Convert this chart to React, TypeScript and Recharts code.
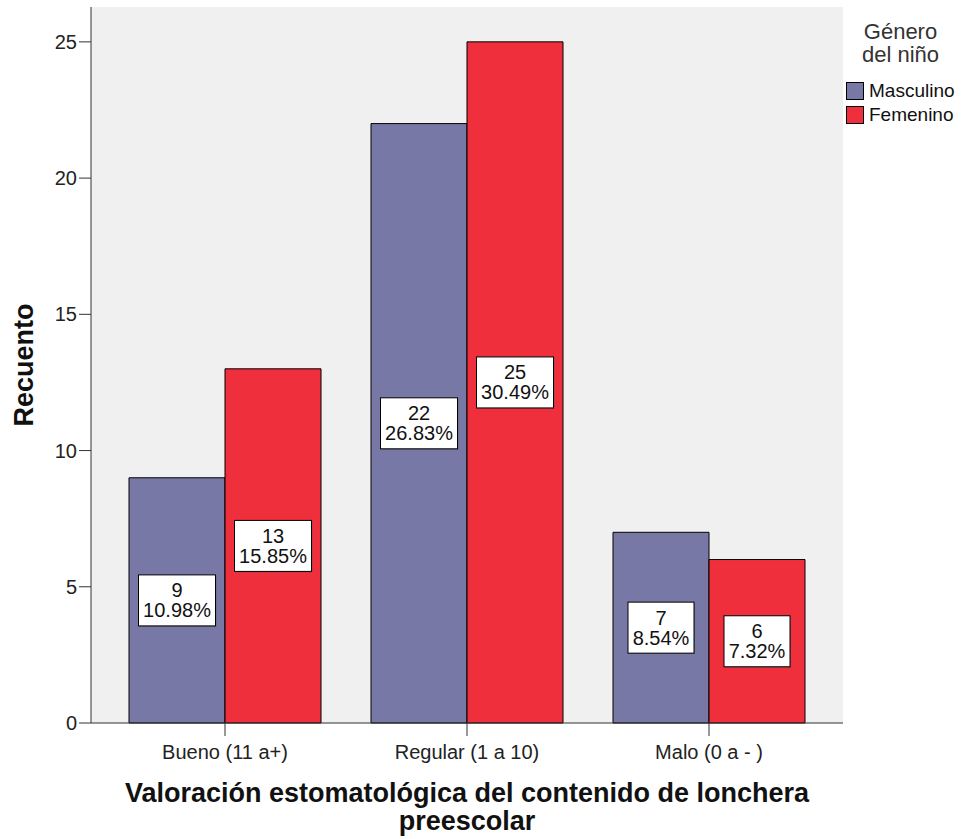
import { BarChart, Bar, XAxis, YAxis, CartesianGrid, Legend, LabelList } from 'recharts';

const categories = ['Bueno (11 a+)', 'Regular (1 a 10)', 'Malo (0 a - )'];
const masculino = [9, 22, 7];
const femenino = [13, 25, 6];
const masculinoPct = ['10.98%', '26.83%', '8.54%'];
const femeninoPct = ['15.85%', '30.49%', '7.32%'];
const yTicks = [0, 5, 10, 15, 20, 25];

const FONT = '"Liberation Sans", Arial, sans-serif';
const MASC_COLOR = '#7878a6';
const FEM_COLOR = '#ef2f3b';

const chartData = categories.map((name, i) => ({
  name,
  Masculino: masculino[i],
  Femenino: femenino[i],
  mascLabel: `${masculino[i]}|${masculinoPct[i]}`,
  femLabel: `${femenino[i]}|${femeninoPct[i]}`,
}));

// rough Arial widths, enough to size the white boxes
function textWidth(s: string, size: number) {
  let w = 0;
  for (const ch of s) {
    if (ch === '.') w += 0.278;
    else if (ch === '%') w += 0.889;
    else w += 0.556;
  }
  return w * size;
}

function BoxLabel(props: any) {
  const { x, y, width, height, value } = props;
  if (value == null) return null;
  const [count, pct] = String(value).split('|');
  const cx = Number(x) + Number(width) / 2;
  const cy = Number(y) + Number(height) / 2;
  const w = Math.round(textWidth(pct, 20) + 9);
  const h = 51;
  return (
    <g>
      <rect x={cx - w / 2 + 1} y={cy - h / 2 + 1} width={w} height={h} fill="#555" opacity={0.5} />
      <rect x={cx - w / 2} y={cy - h / 2} width={w} height={h} fill="#fff" stroke="#000" strokeWidth={1} />
      <text x={cx} y={cy - 10} textAnchor="middle" dominantBaseline="central" fontSize={20} fill="#111">
        {count}
      </text>
      <text x={cx} y={cy + 10} textAnchor="middle" dominantBaseline="central" fontSize={20} fill="#111">
        {pct}
      </text>
    </g>
  );
}

function LegendBox() {
  const items = [
    { name: 'Masculino', color: MASC_COLOR },
    { name: 'Femenino', color: FEM_COLOR },
  ];
  return (
    <div style={{ fontFamily: FONT }}>
      <div style={{ textAlign: 'center', fontSize: 22, lineHeight: '23px', color: '#333', marginTop: 20 }}>
        Género
        <br />
        del niño
      </div>
      <div style={{ marginTop: 13 }}>
        {items.map((it) => (
          <div key={it.name} style={{ display: 'flex', alignItems: 'center', height: 24, paddingLeft: 6 }}>
            <div
              style={{
                width: 18,
                height: 18,
                boxSizing: 'border-box',
                border: '1px solid #000',
                background: it.color,
                marginRight: 5,
              }}
            />
            <span style={{ fontSize: 19, color: '#111' }}>{it.name}</span>
          </div>
        ))}
      </div>
    </div>
  );
}

export default function App() {
  return (
    <div style={{ position: 'absolute', left: 0, top: 0, width: 961, height: 839, background: '#fff', fontFamily: FONT }}>
      <BarChart
        width={961}
        height={839}
        data={chartData}
        margin={{ top: 7, right: 118, left: 0, bottom: 0 }}
        barGap={0}
      >
        <CartesianGrid xAxisId="b" yAxisId="left" horizontal={false} vertical={false} fill="#f0f0f0" />
        <XAxis
          xAxisId="b"
          dataKey="name"
          height={116}
          padding={{ left: 13, right: 13 }}
          tickSize={13}
          tickMargin={9}
          tick={{ fill: '#222', fontSize: 20 }}
          axisLine={{ stroke: '#333' }}
          tickLine={{ stroke: '#333' }}
          label={{
            content: (p: any) => {
              const vb = p.viewBox || {};
              const cx = vb.x + vb.width / 2;
              return (
                <g>
                  <text x={cx} y={vb.y + 79} textAnchor="middle" fontSize={27} fontWeight="bold" fill="#111">
                    Valoración estomatológica del contenido de lonchera
                  </text>
                  <text x={cx} y={vb.y + 107} textAnchor="middle" fontSize={27} fontWeight="bold" fill="#111">
                    preescolar
                  </text>
                </g>
              );
            },
          }}
        />
        <XAxis
          xAxisId="top"
          dataKey="name"
          orientation="top"
          height={0}
          tick={false}
          tickLine={false}
          axisLine={{ stroke: '#444' }}
        />
        <YAxis
          yAxisId="left"
          width={91}
          domain={[0, 26.28]}
          ticks={yTicks}
          interval={0}
          tickSize={12}
          tickMargin={2}
          tick={{ fill: '#222', fontSize: 20 }}
          axisLine={{ stroke: '#333' }}
          tickLine={{ stroke: '#333' }}
          label={{
            content: (p: any) => {
              const vb = p.viewBox || {};
              const cy = vb.y + vb.height / 2;
              return (
                <text
                  x={33}
                  y={cy}
                  transform={`rotate(-90, 33, ${cy})`}
                  textAnchor="middle"
                  fontSize={27}
                  fontWeight="bold"
                  fill="#111"
                >
                  Recuento
                </text>
              );
            },
          }}
        />
        <YAxis
          yAxisId="right"
          orientation="right"
          width={0}
          domain={[0, 26.28]}
          tick={false}
          tickLine={false}
          axisLine={{ stroke: '#444' }}
        />
        <Legend
          layout="horizontal"
          verticalAlign="middle"
          align="center"
          content={() => <LegendBox />}
          wrapperStyle={{ left: 840, top: 0, width: 121 }}
        />
        <Bar
          xAxisId="b"
          yAxisId="left"
          dataKey="Masculino"
          fill={MASC_COLOR}
          stroke="#000"
          strokeWidth={1}
          barSize={96}
          isAnimationActive={false}
        >
          <LabelList dataKey="mascLabel" content={BoxLabel} />
        </Bar>
        <Bar
          xAxisId="b"
          yAxisId="left"
          dataKey="Femenino"
          fill={FEM_COLOR}
          stroke="#000"
          strokeWidth={1}
          barSize={96}
          isAnimationActive={false}
        >
          <LabelList dataKey="femLabel" content={BoxLabel} />
        </Bar>
      </BarChart>
    </div>
  );
}
